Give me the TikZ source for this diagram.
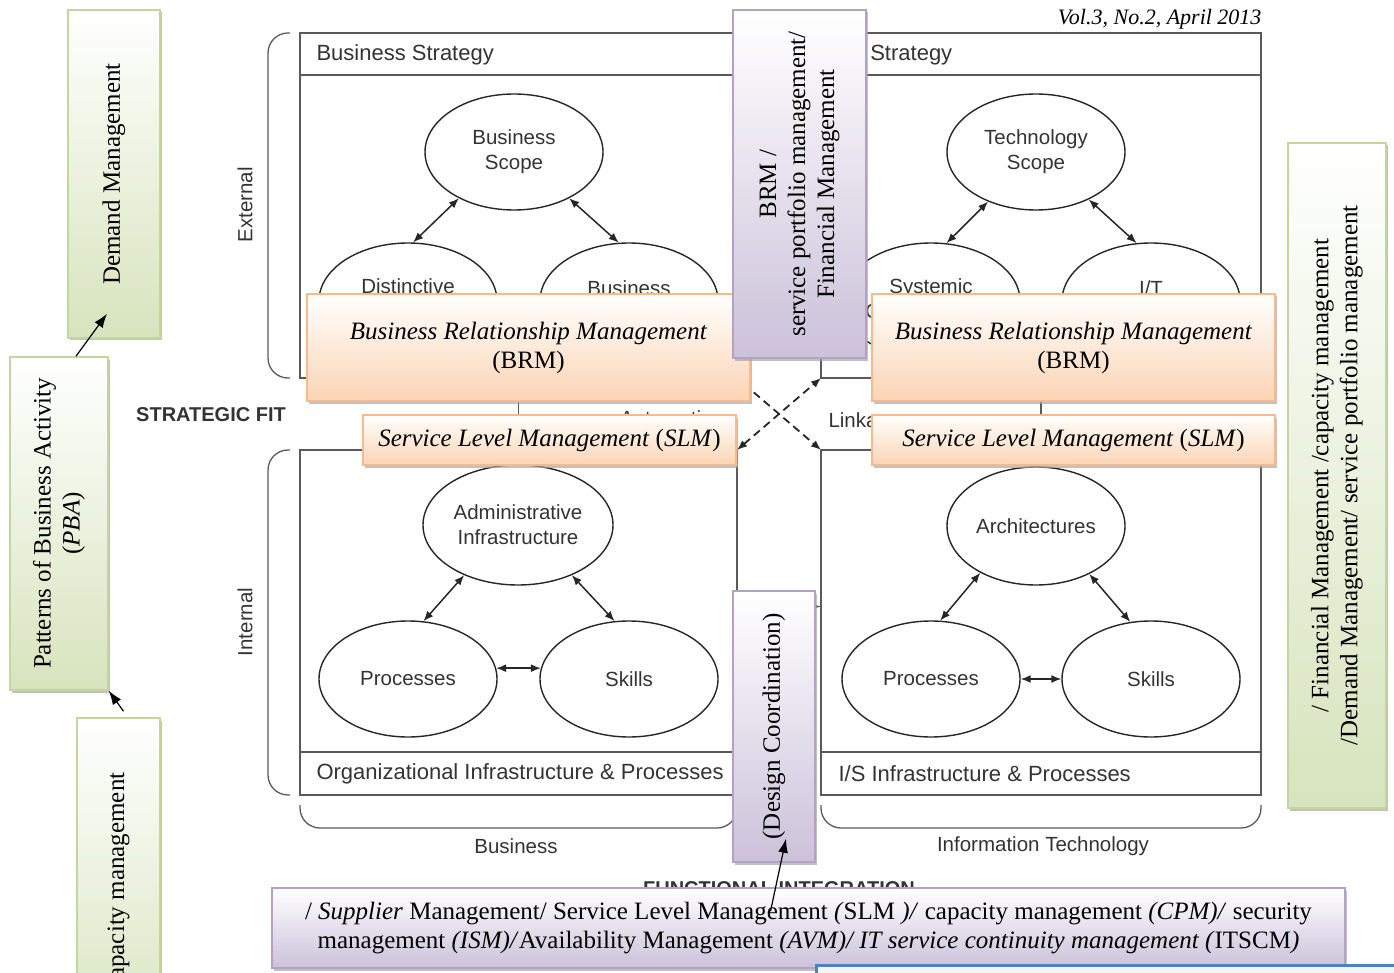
\documentclass[tikz,border=0pt]{standalone}
\usepackage{fontspec}
\setmainfont{Liberation Serif}
\setsansfont{Liberation Sans}
\usetikzlibrary{shapes.geometric,shadows,arrows.meta}

\definecolor{grnline}{HTML}{C3D69B}
\definecolor{grnfill}{HTML}{D7E4BD}
\definecolor{orgline}{HTML}{F9B98A}
\definecolor{orgfill}{HTML}{FBD4B4}
\definecolor{purline}{HTML}{B3A2C7}
\definecolor{purfill}{HTML}{CCC1DA}
\definecolor{barblue}{HTML}{4F81BD}
\definecolor{samgray}{HTML}{5A5A5A}
\definecolor{samtext}{HTML}{333333}

\newcommand{\itilfont}{\fontsize{25}{29}\selectfont}
\newcommand{\samfont}{\sffamily\fontsize{20.5}{25}\selectfont}

\begin{document}
\begin{tikzpicture}[x=1pt, y=-1pt,
    quad/.style={rectangle, draw=samgray, line width=1.5pt, inner sep=0pt, outer sep=0pt},
    rule/.style={draw=samgray, line width=1.5pt},
    oval/.style={ellipse, draw=black!85, line width=1.4pt, minimum width=178pt, minimum height=116pt, inner sep=0pt, inner xsep=-15pt, align=center, font=\samfont, text=samtext},
    samlabel/.style={font=\samfont, text=samtext},
    headlabel/.style={font=\sffamily\fontsize{22}{25}\selectfont, text=samtext, anchor=west},
    biglabel/.style={font=\sffamily\bfseries\fontsize{20}{24}\selectfont, text=samtext},
    brace/.style={draw=samgray, line width=1.3pt, rounded corners=20pt},
    link/.style={{Latex[length=10pt,width=8pt]}-{Latex[length=10pt,width=8pt]}, line width=1.5pt, draw=black!85},
    itilbox/.style={rectangle, line width=1.5pt, inner sep=2pt, align=center, font=\itilfont,
        drop shadow={shadow xshift=1.5pt, shadow yshift=-2.5pt, fill=gray!70, opacity=.7}},
    greenbox/.style={itilbox, draw=grnline, top color=white, bottom color=grnfill, rotate=90},
    orangebox/.style={itilbox, draw=orgline, top color=white, bottom color=orgfill},
    purplebox/.style={itilbox, draw=purline, top color=white, bottom color=purfill},
    boxarrow/.style={-{Latex[length=14pt,width=10pt]}, line width=1.2pt}]
        \useasboundingbox (0,0) rectangle (1394,973);

        % strategic alignment model
        \node[quad, minimum width=437pt, minimum height=345pt] (bstrat) at (518.5,205.5) {};
        \node[quad, minimum width=440pt, minimum height=345pt] (itstrat) at (1041,205.5) {};
        \node[quad, minimum width=437pt, minimum height=345pt] (orginf) at (518.5,622.5) {};
        \node[quad, minimum width=440pt, minimum height=345pt] (isinf) at (1041,622.5) {};
        \draw[rule] ([yshift=-42pt]bstrat.north west) -- ([yshift=-42pt]bstrat.north east);
        \draw[rule] ([yshift=-42pt]itstrat.north west) -- ([yshift=-42pt]itstrat.north east);
        \draw[rule] ([yshift=43pt]orginf.south west) -- ([yshift=43pt]orginf.south east);
        \draw[rule] ([yshift=43pt]isinf.south west) -- ([yshift=43pt]isinf.south east);

        \node[headlabel] (bstxt) at (313,55) {Business Strategy};
        \node[headlabel] (ittxt) at (835,55) {I/T Strategy};
        \node[headlabel] (oitxt) at (313,774) {Organizational Infrastructure \& Processes};
        \node[headlabel] (istxt) at (835,774) {I/S Infrastructure \& Processes};

        \node[oval] (bscope) at (514,152) {Business\\Scope};
        \node[oval] (distinct) at (408,301) {Distinctive\\Competencies};
        \node[oval] (bgov) at (629,301) {Business\\Governance};
        \node[oval] (tscope) at (1036,152) {Technology\\Scope};
        \node[oval] (systemic) at (931,301) {Systemic\\Competencies};
        \node[oval] (itgov) at (1151,301) {I/T\\Governance};
        \node[oval, minimum width=190pt, minimum height=120pt] (admin) at (518,525) {Administrative\\Infrastructure};
        \node[oval] (oproc) at (408,679) {Processes};
        \node[oval] (oskill) at (629,679) {Skills};
        \node[oval, minimum height=118pt] (arch) at (1036,526) {Architectures};
        \node[oval] (iproc) at (931,679) {Processes};
        \node[oval] (iskill) at (1151,679) {Skills};

        \draw[link] (bscope.220) -- (distinct.85);
        \draw[link] (bscope.320) -- (bgov.100);
        \draw[link] (tscope.226) -- (systemic.75);
        \draw[link] (tscope.318) -- (itgov.104);
        \draw[link] (admin.223) -- (oproc.75);
        \draw[link] (admin.317) -- (oskill.104);
        \draw[link] (oproc.7) -- (oskill.173);
        \draw[link] (arch.220) -- (iproc.81);
        \draw[link] (arch.318) -- (iskill.110);
        \draw[link] (iproc) -- (iskill);

        \draw[link, draw=samgray] (bstrat.south) -- (orginf.north);
        \draw[link, draw=samgray] (itstrat.south) -- (isinf.north);
        \draw[link, draw=samgray] (bstrat.east) -- (itstrat.west);
        \draw[link, draw=samgray] ([yshift=16pt]orginf.east) -- ([yshift=16pt]isinf.west);
        \draw[link, line width=1.8pt, dash pattern=on 8pt off 5pt] (bstrat.south east) -- (isinf.north west);
        \draw[link, line width=1.8pt, dash pattern=on 8pt off 5pt] (orginf.north east) -- (itstrat.south west);

        \draw[brace] (290,33) -- (268,33) -- (268,378) -- (290,378);
        \draw[brace] (290,450) -- (268,450) -- (268,795) -- (290,795);
        \draw[brace] (300,805) -- (300,828) -- (737,828) -- (737,805);
        \draw[brace] (821,805) -- (821,828) -- (1261,828) -- (1261,805);
        \node[samlabel, rotate=90] (external) at (245,205) {External};
        \node[samlabel, rotate=90] (internal) at (245,622) {Internal};
        \node[samlabel] (business) at (516,846) {Business};
        \node[samlabel] (infotech) at (1043,846) {Information Technology};
        \node[samlabel] (automation) at (672,418) {Automation};
        \node[samlabel, anchor=west] (linkage) at (825,422) {Linkage};
        \node[biglabel] (fit) at (211,415) {STRATEGIC FIT};
        \node[biglabel] (integration) at (779,889) {FUNCTIONAL INTEGRATION};

        \node[anchor=east, font=\fontsize{22}{26}\selectfont\itshape] (issue) at (1265,19) {Vol.3, No.2, April 2013};

        % ITIL processes laid over the model
        \node[greenbox, minimum width=328pt, minimum height=92pt] (demand) at (114,174) {Demand Management};
        \node[greenbox, minimum width=333pt, minimum height=98pt] (pba) at (59,523.5) {Patterns of Business Activity\\(\textit{PBA})};
        \node[greenbox, minimum width=332pt, minimum height=83pt] (capacity) at (118.5,884) {Capacity management};
        \node[greenbox, minimum width=665pt, minimum height=98pt] (finance) at (1337,475.5) {/ Financial Management /capacity management\\/Demand Management/ service portfolio management};

        \node[orangebox, minimum width=443pt, minimum height=107pt] (brml) at (528.5,347.5) {\textit{Business Relationship Management}\\(BRM)};
        \node[orangebox, minimum width=403pt, minimum height=107pt] (brmr) at (1073.5,347.5) {\textit{Business Relationship Management}\\(BRM)};
        \node[orangebox, minimum width=373pt, minimum height=50pt] (slml) at (549.5,440) {\textit{Service Level Management} (\textit{SLM})};
        \node[orangebox, minimum width=403pt, minimum height=50pt] (slmr) at (1073.5,440) {\textit{Service Level Management} (\textit{SLM})};

        \node[purplebox, rotate=90, minimum width=348pt, minimum height=133pt] (portfolio) at (799.5,184) {BRM /\\service portfolio management/\\Financial Management};
        \node[purplebox, rotate=90, minimum width=271pt, minimum height=82pt] (design) at (774,726.5) {(Design Coordination)};
        \node[purplebox, minimum width=1073pt, minimum height=80pt] (itsm) at (808.5,928) {/ \textit{Supplier} Management/ Service Level Management \textit{(}SLM \textit{)/} capacity management \textit{(CPM)/} security\\management \textit{(ISM)/}Availability Management \textit{(AVM)/ IT service continuity management (}ITSCM\textit{)}};

        \draw[barblue, line width=3pt, fill=barblue!8] (816,965) rectangle (1420,1010);

        \draw[boxarrow] ([xshift=17pt]pba.east) -- ([xshift=-7pt,yshift=25pt]demand.west);
        \draw[boxarrow] ([xshift=5pt,yshift=6pt]capacity.east) -- (pba.south west);
        \draw[boxarrow] ([xshift=-38pt,yshift=-24pt]itsm.north) -- ([xshift=12pt,yshift=24pt]design.west);

    \end{tikzpicture}
\end{document}
